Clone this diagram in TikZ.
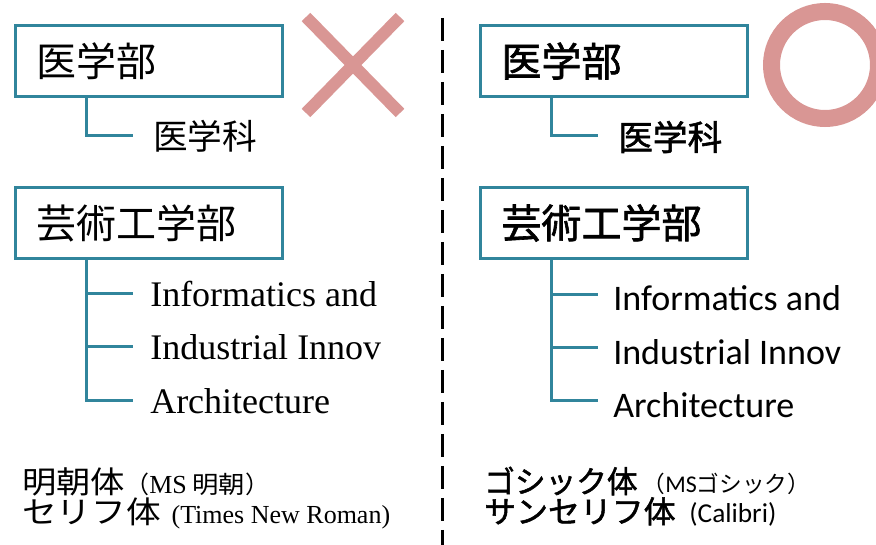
\documentclass[tikz,border=0pt]{standalone}
\usepackage{fontspec}
\usepackage{graphicx}
\setmainfont{Liberation Serif}
\newfontfamily\calibri{Carlito}
\newfontfamily\jp{Noto Sans CJK JP}
\newfontfamily\jpb{Noto Sans CJK JP}[FakeBold=1.6]
\usetikzlibrary{calc}
\definecolor{tealline}{RGB}{49,133,156}
\definecolor{markpink}{RGB}{217,150,148}
\begin{document}
\begin{tikzpicture}[x=0.75pt,y=-0.75pt,
  box/.style={draw=tealline,line width=2.25pt,minimum width=200.25pt,minimum height=53.25pt,
    text width=168.75pt,inner xsep=15.75pt,inner ysep=0pt,align=left,anchor=north west},
  conn/.style={draw=tealline,line width=2.25pt},
  child/.style={inner sep=0pt,anchor=west},
  markline/.style={draw=markpink,line width=9pt},
]
\clip (0,0) rectangle (876,545);
\useasboundingbox (0,0) rectangle (876,545);

% ---------- left side (serif) ----------
\node[box] (lb1) at (14,24) {\fontsize{30pt}{30pt}\selectfont\jp 医学部};
\node[child] (lc1) at (153,136) {\fontsize{26pt}{26pt}\selectfont\jp 医学科};
\coordinate (lt1) at ($(lb1.south west)+(72,0)$);
\draw[conn] (lt1) |- ($(lc1.west)+(-20,0)$);

\node[box] (lb2) at (14,186) {\fontsize{30pt}{30pt}\selectfont\jp 芸術工学部};
\node[child] (lc2) at (150,294) {\fontsize{27pt}{27pt}\selectfont Informatics and};
\node[child] (lc3) at (150,347) {\fontsize{27pt}{27pt}\selectfont Industrial Innov};
\node[child] (lc4) at (150,401) {\fontsize{27pt}{27pt}\selectfont Architecture};
\coordinate (lt2) at ($(lb2.south west)+(72,0)$);
\draw[conn] (lt2) |- ($(lc4.west)+(-17,0)$);
\draw[conn] (lt2 |- lc2.west) -- ($(lc2.west)+(-17,0)$);
\draw[conn] (lt2 |- lc3.west) -- ($(lc3.west)+(-17,0)$);

\draw[markline] (306,17) -- (400,113);
\draw[markline] (400,17) -- (306,113);

\node[child] (lf1) at (22,482) {\fontsize{23pt}{23pt}\selectfont\jp \scalebox{1.12}[1]{明朝体}\fontsize{18pt}{18pt}\selectfont （{\rmfamily\fontsize{19.5pt}{20pt}\selectfont MS} \scalebox{1.1}[1]{明朝}）};
\node[child] (lf2) at (22,513) {\fontsize{23pt}{23pt}\selectfont\jp \scalebox{1.13}[1]{セリフ体}\hspace{0.35em}\fontsize{19.5pt}{20pt}\selectfont\rmfamily (Times New Roman)};

% ---------- divider ----------
\coordinate (dtop) at (442,18);
\coordinate (dbot) at (442,560);
\draw[line width=2.25pt,dash pattern=on 17.25pt off 6.75pt] (dtop) -- (dbot);

% ---------- right side (sans) ----------
\node[box] (rb1) at (479,24) {\fontsize{30pt}{30pt}\selectfont\jpb 医学部};
\node[child] (rc1) at (618,137) {\fontsize{26pt}{26pt}\selectfont\jpb 医学科};
\coordinate (rt1) at ($(rb1.south west)+(72,0)$);
\draw[conn] (rt1) |- ($(rc1.west)+(-20,-1)$);

\node[box] (rb2) at (479,186) {\fontsize{30pt}{30pt}\selectfont\jpb 芸術工学部};
\node[child] (rc2) at (613,298) {\fontsize{27pt}{27pt}\selectfont\calibri Informatics and};
\node[child] (rc3) at (613,352) {\fontsize{27pt}{27pt}\selectfont\calibri Industrial Innov};
\node[child] (rc4) at (613,405) {\fontsize{27pt}{27pt}\selectfont\calibri Architecture};
\coordinate (rt2) at ($(rb2.south west)+(72,0)$);
\coordinate (re2) at ($(rc2.west)+(-15,-3)$);
\coordinate (re3) at ($(rc3.west)+(-15,-4)$);
\coordinate (re4) at ($(rc4.west)+(-15,-4)$);
\draw[conn] (rt2) |- (re4);
\draw[conn] (rt2 |- re2) -- (re2);
\draw[conn] (rt2 |- re3) -- (re3);

\draw[markpink,line width=12.75pt] (825,65) circle[radius=53.5];

\node[child] (rf1) at (484,481) {\fontsize{23pt}{23pt}\selectfont\jpb ゴシック体\jp\fontsize{17pt}{17pt}\selectfont\ （{\calibri\fontsize{18pt}{18pt}\selectfont MS}ゴシック）};
\node[child] (rf2) at (484,512) {\fontsize{23pt}{23pt}\selectfont\jpb \scalebox{1.04}[1]{サンセリフ体}\hspace{0.45em}\fontsize{20.5pt}{20pt}\selectfont\calibri (Calibri)};
\end{tikzpicture}
\end{document}
